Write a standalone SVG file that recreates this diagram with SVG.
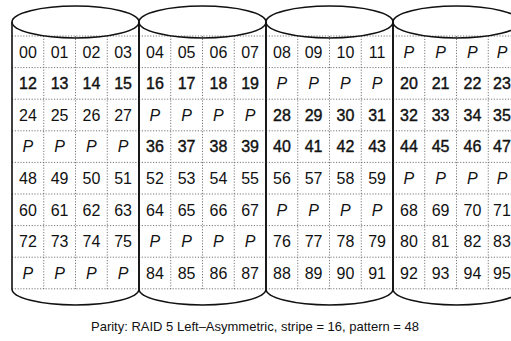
<svg xmlns="http://www.w3.org/2000/svg" width="511" height="341" viewBox="0 0 511 341">
<style>
.o{fill:none;stroke:#111;stroke-width:1.6}
.g{fill:none;stroke:#555;stroke-width:0.8;stroke-dasharray:1.2 1.6}
.t{font-family:"Liberation Sans",Arial,sans-serif;font-size:16px;text-anchor:middle;fill:#111}
.b{stroke:#111;stroke-width:0.4}
.p{font-style:italic}
.cap{font-family:"Liberation Sans",Arial,sans-serif;font-size:13px;text-anchor:middle;fill:#111}
</style>
<defs>
<g id="grid">
<path class="g" d="M0,36H127M0,67.6H127M0,99.2H127M0,130.8H127M0,162.4H127M0,194H127M0,225.6H127M0,257.2H127M0,288.8H127M31.75,36V289M63.5,36V289M95.25,36V289"/>
</g>
<g id="shell">
<ellipse class="o" cx="63.5" cy="22" rx="63.5" ry="16"/>
<path class="o" d="M0,22V289A63.5 16 0 0 0 127,289V22"/>
</g>
</defs>
<g id="disk0" transform="translate(12,0)">
<use href="#grid"/><use href="#shell"/>
<g class="t">
<text x="15.9" y="57.5">00</text><text x="47.6" y="57.5">01</text><text x="79.4" y="57.5">02</text><text x="111.1" y="57.5">03</text>
<text class="b" x="15.9" y="89.1">12</text><text class="b" x="47.6" y="89.1">13</text><text class="b" x="79.4" y="89.1">14</text><text class="b" x="111.1" y="89.1">15</text>
<text x="15.9" y="120.7">24</text><text x="47.6" y="120.7">25</text><text x="79.4" y="120.7">26</text><text x="111.1" y="120.7">27</text>
<text class="p" x="15.9" y="152.3">P</text><text class="p" x="47.6" y="152.3">P</text><text class="p" x="79.4" y="152.3">P</text><text class="p" x="111.1" y="152.3">P</text>
<text x="15.9" y="183.9">48</text><text x="47.6" y="183.9">49</text><text x="79.4" y="183.9">50</text><text x="111.1" y="183.9">51</text>
<text x="15.9" y="215.5">60</text><text x="47.6" y="215.5">61</text><text x="79.4" y="215.5">62</text><text x="111.1" y="215.5">63</text>
<text x="15.9" y="247.1">72</text><text x="47.6" y="247.1">73</text><text x="79.4" y="247.1">74</text><text x="111.1" y="247.1">75</text>
<text class="p" x="15.9" y="278.7">P</text><text class="p" x="47.6" y="278.7">P</text><text class="p" x="79.4" y="278.7">P</text><text class="p" x="111.1" y="278.7">P</text>
</g>
</g>
<g id="disk1" transform="translate(139,0)">
<use href="#grid"/><use href="#shell"/>
<g class="t">
<text x="15.9" y="57.5">04</text><text x="47.6" y="57.5">05</text><text x="79.4" y="57.5">06</text><text x="111.1" y="57.5">07</text>
<text class="b" x="15.9" y="89.1">16</text><text class="b" x="47.6" y="89.1">17</text><text class="b" x="79.4" y="89.1">18</text><text class="b" x="111.1" y="89.1">19</text>
<text class="p" x="15.9" y="120.7">P</text><text class="p" x="47.6" y="120.7">P</text><text class="p" x="79.4" y="120.7">P</text><text class="p" x="111.1" y="120.7">P</text>
<text class="b" x="15.9" y="152.3">36</text><text class="b" x="47.6" y="152.3">37</text><text class="b" x="79.4" y="152.3">38</text><text class="b" x="111.1" y="152.3">39</text>
<text x="15.9" y="183.9">52</text><text x="47.6" y="183.9">53</text><text x="79.4" y="183.9">54</text><text x="111.1" y="183.9">55</text>
<text x="15.9" y="215.5">64</text><text x="47.6" y="215.5">65</text><text x="79.4" y="215.5">66</text><text x="111.1" y="215.5">67</text>
<text class="p" x="15.9" y="247.1">P</text><text class="p" x="47.6" y="247.1">P</text><text class="p" x="79.4" y="247.1">P</text><text class="p" x="111.1" y="247.1">P</text>
<text x="15.9" y="278.7">84</text><text x="47.6" y="278.7">85</text><text x="79.4" y="278.7">86</text><text x="111.1" y="278.7">87</text>
</g>
</g>
<g id="disk2" transform="translate(266,0)">
<use href="#grid"/><use href="#shell"/>
<g class="t">
<text x="15.9" y="57.5">08</text><text x="47.6" y="57.5">09</text><text x="79.4" y="57.5">10</text><text x="111.1" y="57.5">11</text>
<text class="p" x="15.9" y="89.1">P</text><text class="p" x="47.6" y="89.1">P</text><text class="p" x="79.4" y="89.1">P</text><text class="p" x="111.1" y="89.1">P</text>
<text class="b" x="15.9" y="120.7">28</text><text class="b" x="47.6" y="120.7">29</text><text class="b" x="79.4" y="120.7">30</text><text class="b" x="111.1" y="120.7">31</text>
<text class="b" x="15.9" y="152.3">40</text><text class="b" x="47.6" y="152.3">41</text><text class="b" x="79.4" y="152.3">42</text><text class="b" x="111.1" y="152.3">43</text>
<text x="15.9" y="183.9">56</text><text x="47.6" y="183.9">57</text><text x="79.4" y="183.9">58</text><text x="111.1" y="183.9">59</text>
<text class="p" x="15.9" y="215.5">P</text><text class="p" x="47.6" y="215.5">P</text><text class="p" x="79.4" y="215.5">P</text><text class="p" x="111.1" y="215.5">P</text>
<text x="15.9" y="247.1">76</text><text x="47.6" y="247.1">77</text><text x="79.4" y="247.1">78</text><text x="111.1" y="247.1">79</text>
<text x="15.9" y="278.7">88</text><text x="47.6" y="278.7">89</text><text x="79.4" y="278.7">90</text><text x="111.1" y="278.7">91</text>
</g>
</g>
<g id="disk3" transform="translate(393,0)">
<use href="#grid"/><use href="#shell"/>
<g class="t">
<text class="p" x="15.9" y="57.5">P</text><text class="p" x="47.6" y="57.5">P</text><text class="p" x="79.4" y="57.5">P</text><text class="p" x="109" y="57.5">P</text>
<text class="b" x="15.9" y="89.1">20</text><text class="b" x="47.6" y="89.1">21</text><text class="b" x="79.4" y="89.1">22</text><text class="b" x="109" y="89.1">23</text>
<text class="b" x="15.9" y="120.7">32</text><text class="b" x="47.6" y="120.7">33</text><text class="b" x="79.4" y="120.7">34</text><text class="b" x="109" y="120.7">35</text>
<text class="b" x="15.9" y="152.3">44</text><text class="b" x="47.6" y="152.3">45</text><text class="b" x="79.4" y="152.3">46</text><text class="b" x="109" y="152.3">47</text>
<text class="p" x="15.9" y="183.9">P</text><text class="p" x="47.6" y="183.9">P</text><text class="p" x="79.4" y="183.9">P</text><text class="p" x="109" y="183.9">P</text>
<text x="15.9" y="215.5">68</text><text x="47.6" y="215.5">69</text><text x="79.4" y="215.5">70</text><text x="109" y="215.5">71</text>
<text x="15.9" y="247.1">80</text><text x="47.6" y="247.1">81</text><text x="79.4" y="247.1">82</text><text x="109" y="247.1">83</text>
<text x="15.9" y="278.7">92</text><text x="47.6" y="278.7">93</text><text x="79.4" y="278.7">94</text><text x="109" y="278.7">95</text>
</g>
</g>
<text id="caption" class="cap" x="255" y="330.5">Parity: RAID 5 Left–Asymmetric, stripe = 16, pattern = 48</text>
</svg>
